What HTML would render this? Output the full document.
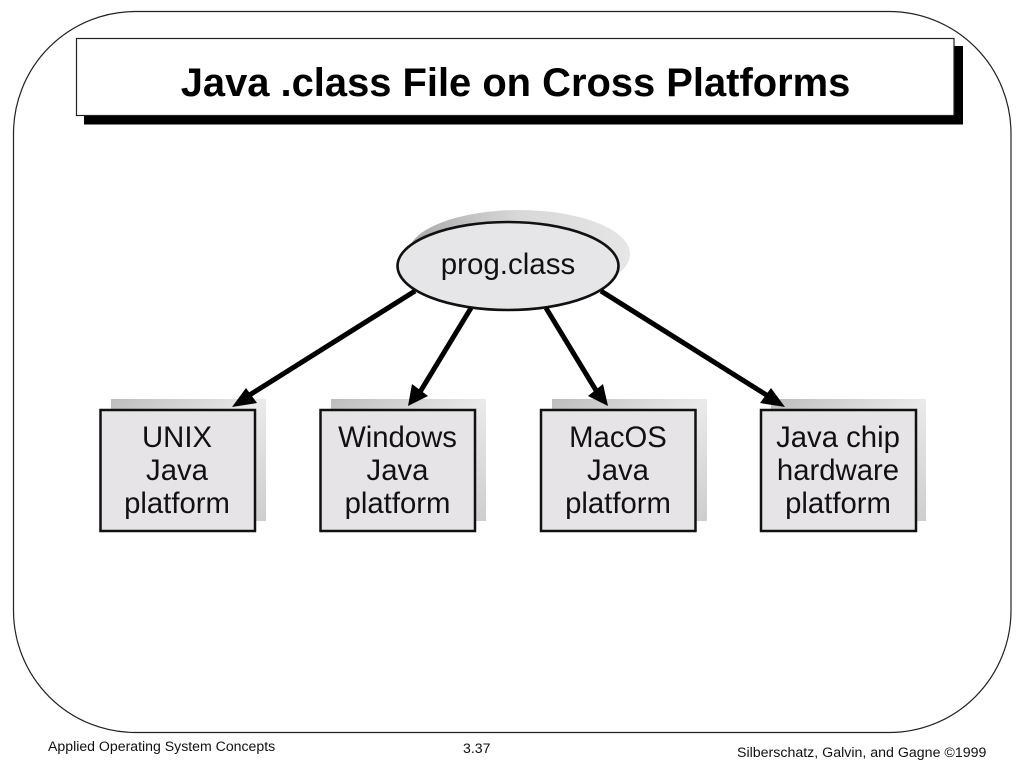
<!DOCTYPE html>
<html>
<head>
<meta charset="utf-8">
<style>
html,body{margin:0;padding:0;background:#fff;width:1024px;height:768px;overflow:hidden}
svg{display:block}
text{font-family:"Liberation Sans",sans-serif;fill:#111}
</style>
</head>
<body>
<svg width="1024" height="768" viewBox="0 0 1024 768" xmlns="http://www.w3.org/2000/svg">
<defs>
<linearGradient id="s" x1="0" y1="0" x2="1" y2="1">
<stop offset="0" stop-color="#bdbdbd"/>
<stop offset="0.5" stop-color="#eaeaea"/>
<stop offset="1" stop-color="#cdcdcd"/>
</linearGradient>
<linearGradient id="e" x1="0" y1="0" x2="1" y2="0">
<stop offset="0" stop-color="#a8a8a8"/>
<stop offset="0.5" stop-color="#d8d8d8"/>
<stop offset="1" stop-color="#e6e6e6"/>
</linearGradient>
</defs>
<rect x="13.5" y="11.5" width="997.5" height="721" rx="122" ry="122" fill="#fff" stroke="#222" stroke-width="1.2"/>
<rect x="84" y="46" width="879" height="78.5" fill="#000"/>
<rect x="76.5" y="38.5" width="877.5" height="77" fill="#fff" stroke="#222" stroke-width="1.2"/>
<text x="515.5" y="96" font-size="39.900" font-weight="700" text-anchor="middle" style="fill:#000">Java .class File on Cross Platforms</text>

<ellipse cx="519" cy="254" rx="111" ry="44" fill="url(#e)"/>
<ellipse cx="508" cy="266" rx="110.5" ry="44" fill="#e6e5e7" stroke="#111" stroke-width="2.6"/>
<text x="508" y="274" font-size="29.500" text-anchor="middle">prog.class</text>

<g fill="url(#s)">
<rect x="111" y="399" width="155" height="122"/>
<rect x="331" y="399" width="155" height="122"/>
<rect x="552" y="399" width="155" height="122"/>
<rect x="771" y="399" width="155" height="122"/>
</g>
<g fill="#e6e4e7" stroke="#111" stroke-width="2.5">
<rect x="100.5" y="410" width="154.5" height="121"/>
<rect x="320.5" y="410" width="154.5" height="121"/>
<rect x="541" y="410" width="154.5" height="121"/>
<rect x="761" y="410" width="155" height="121"/>
</g>

<g stroke="#000" stroke-width="5" fill="none">
<line x1="415" y1="291" x2="248" y2="396"/>
<line x1="471" y1="308" x2="420" y2="392"/>
<line x1="546" y1="308" x2="597" y2="392"/>
<line x1="601" y1="291" x2="768" y2="396"/>
</g>
<g fill="#000">
<polygon points="232,407 246,388 257,403"/>
<polygon points="408,406 412,384 428,396"/>
<polygon points="608,406 588,396 603,384"/>
<polygon points="785,407 760,403 771,388"/>
</g>

<g font-size="29.300" text-anchor="middle">
<text x="177" y="447">UNIX</text>
<text x="177" y="480">Java</text>
<text x="177" y="513">platform</text>
<text x="397.500" y="447">Windows</text>
<text x="397.500" y="480">Java</text>
<text x="397.500" y="513">platform</text>
<text x="618" y="447">MacOS</text>
<text x="618" y="480">Java</text>
<text x="618" y="513">platform</text>
<text x="838" y="447">Java chip</text>
<text x="838" y="480">hardware</text>
<text x="838" y="513">platform</text>
</g>

<text x="48" y="751" font-size="14.100">Applied Operating System Concepts</text>
<text x="463" y="753" font-size="14.100">3.37</text>
<text x="737" y="757" font-size="14.200">Silberschatz, Galvin, and Gagne ©1999</text>
</svg>
</body>
</html>
